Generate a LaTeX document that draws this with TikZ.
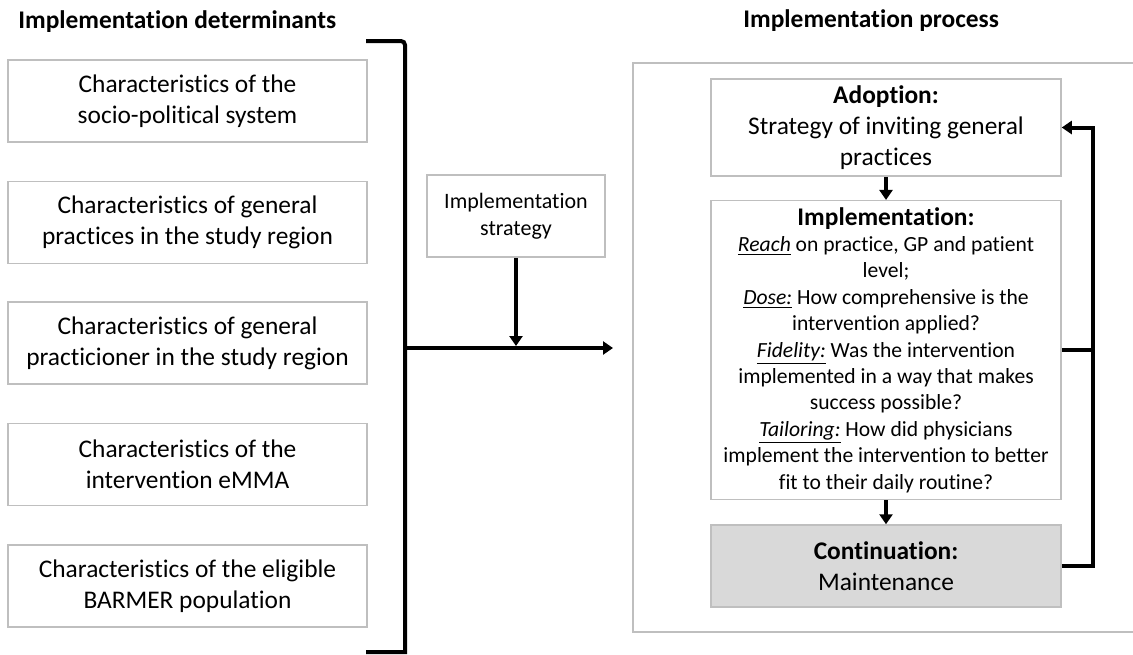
\documentclass[tikz,border=0pt]{standalone}
\usepackage{fontspec}
\setmainfont[Ligatures=NoCommon]{Carlito}
\usetikzlibrary{positioning,arrows.meta}
\definecolor{boxline}{HTML}{BFBFBF}
\definecolor{boxfill}{HTML}{D9D9D9}
\tikzstyle{head} = [font=\bfseries\fontsize{12.7}{15.5}\selectfont, anchor=west, inner sep=0pt]
\tikzstyle{det} = [draw=boxline, line width=0.75pt, rectangle, minimum width=179.5pt, minimum height=41pt, align=center, font=\fontsize{12.7}{15.5}\selectfont]
\tikzstyle{proc} = [det, minimum width=175pt]
\tikzstyle{flow} = [-{Triangle[length=5pt,width=6.5pt]}, line width=1.6pt]
\tikzstyle{bar} = [line width=2pt]

\begin{document}
\begin{tikzpicture}[x=0.5pt, y=-0.5pt]
	\useasboundingbox (0,0) rectangle (1133,654);
	% headings
	\node (dethead) [head] at (18,22) {Implementation determinants};
	\node (prochead) [head] at (743,21) {Implementation process};
	% determinants
	\node (d1) [det] at (187.5,101) {Characteristics of the\\ socio-political system};
	\node (d2) [det] at (187.5,222.5) {Characteristics of general\\ practices in the study region};
	\node (d3) [det] at (187.5,343) {Characteristics of general\\ practicioner in the study region};
	\node (d4) [det] at (187.5,464.5) {Characteristics of the\\ intervention eMMA};
	\node (d5) [det] at (187.5,586) {Characteristics of the eligible\\ BARMER population};
	\node (strat) [det, minimum width=89pt, font=\fontsize{11}{13.4}\selectfont] at (516,216) {Implementation\\ strategy};
	% process
	\draw [boxline, line width=0.75pt] (1140,63) -- (633,63) -- (633,632) -- (1140,632);
	\node (adopt) [proc, minimum height=48.5pt] at (886,127.5) {\textbf{Adoption:}\\ Strategy of inviting general\\ practices};
	\node (impl) [proc, minimum height=148pt, font=\fontsize{10.8}{13.2}\selectfont] at (886,350) {{\fontsize{12.7}{15.5}\selectfont\bfseries Implementation:}\\
		\underline{\textit{Reach}} on practice, GP and patient\\ level;\\
		\underline{\textit{Dose:}} How comprehensive is the\\ intervention applied?\\
		\underline{\textit{Fidelity:}} Was the intervention\\ implemented in a way that makes\\ success possible?\\
		\underline{\textit{Tailoring:}} How did physicians\\ implement the intervention to better\\ fit to their daily routine?};
	\node (cont) [proc, fill=boxfill] at (886,566) {\textbf{Continuation:}\\ Maintenance};
	% bracket and arrows
	\coordinate (brtop) at (366,41);
	\coordinate (brbot) at (366,652);
	\coordinate (brx) at (405,0);
	\coordinate (brmid) at (405,348);
	\coordinate (arrend) at (613,348);
	\coordinate (strattip) at (516,346);
	\coordinate (fb) at (1093,0);
	\draw [bar] (brtop) -- ([xshift=-2pt]brtop -| brx) to[out=0,in=90] ([yshift=-2pt]brtop -| brx) -- (brbot -| brx) -- (brbot);
	\draw [flow] (brmid) -- (arrend);
	\draw [flow] (strat.south) -- (strattip);
	\draw [flow] (adopt.south) -- (impl.north);
	\draw [flow] (impl.south) -- (cont.north);
	\draw [bar] (impl.east) -- (impl.east -| fb);
	\draw [bar, -{Triangle[length=5pt,width=6.5pt]}] (cont.east) -- (cont.east -| fb) |- (adopt.east);
\end{tikzpicture}
\end{document}
